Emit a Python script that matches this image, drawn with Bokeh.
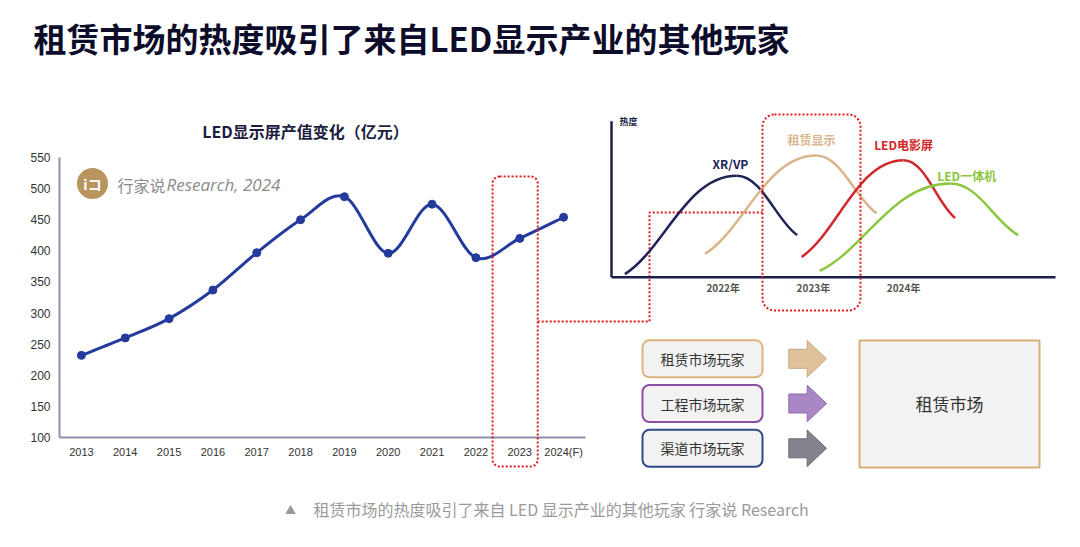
import numpy as np
from bokeh.plotting import figure
from bokeh.models import Range1d, FixedTicker
from bokeh.models.glyphs import Quad
from bokeh.core.properties import value
from bokeh.embed import file_html
from bokeh.resources import INLINE

# ---------------- data ----------------
years = ["2013", "2014", "2015", "2016", "2017", "2018", "2019", "2020",
         "2021", "2022", "2023", "2024(F)"]
output_value = [232, 260, 291, 337, 397, 450, 487, 396, 475, 389, 420, 454]
y_ticks = [100, 150, 200, 250, 300, 350, 400, 450, 500, 550]
highlight_year = "2023"

trend_names = ["XR/VP", "租赁显示", "LED电影屏", "LED一体机"]
trend_start_year = [2020.91, 2021.80, 2022.87, 2023.07]
trend_peak_year = [2022.15, 2023.03, 2024.00, 2024.52]
trend_end_year = [2022.82, 2023.70, 2024.57, 2025.27]
trend_start_heat = [2, 15, 13, 4]
trend_peak_heat = [65, 78, 75, 60]
trend_end_heat = [27, 41, 38, 27]
timeline_labels = ["2022年", "2023年", "2024年"]
timeline_years = [2022, 2023, 2024]
players = ["租赁市场玩家", "工程市场玩家", "渠道市场玩家"]
target_market = "租赁市场"

title_text = "租赁市场的热度吸引了来自LED显示产业的其他玩家"
chart_title = "LED显示屏产值变化（亿元）"
caption_text = "租赁市场的热度吸引了来自 LED 显示产业的其他玩家 行家说 Research"

# ---------------- styles ----------------
CJK = "Noto Sans CJK SC"
LINE_BLUE = "#243a9c"
RED = "#e0191e"
trend_colors = ["#1e2456", "#d9b68a", "#d2262b", "#8cc63f"]
trend_label_dx = [-0.07, -0.05, 0.0, 0.18]
trend_label_dy = [8, 10, 10, 5]
player_border = ["#dcb57e", "#8a4fa8", "#2e4a8a"]
arrow_fill = ["#dfc29c", "#a887c4", "#83838d"]
arrow_line = ["#c9a67a", "#8e6aae", "#6b6b75"]

W, H = 1080, 547
FL, FR, FT, FB = 59, 585, 157, 437          # frame of the left chart (screen px)
DX0, DXS, DY0, DYS = 722.7, 90.2, 276.7, 1.56  # diagram: px of 2022, px/yr, px of heat 0, px/heat


def yr(px):
    return 2022 + (px - DX0) / DXS


def ht(py):
    return (DY0 - py) / DYS


p = figure(width=W, height=H, output_backend="svg", toolbar_location=None,
           x_range=Range1d(-0.5, len(years) - 0.5), y_range=Range1d(100, 550),
           min_border_left=FL, min_border_right=W - FR,
           min_border_top=FT, min_border_bottom=H - FB,
           background_fill_color="white", border_fill_color="white",
           outline_line_color=None)
p.extra_x_ranges = {"px": Range1d(FL, FR), "yr": Range1d(yr(FL), yr(FR))}
p.extra_y_ranges = {"py": Range1d(FB, FT), "heat": Range1d(ht(FB), ht(FT))}
p.grid.visible = False

# axes of the left chart
p.yaxis.ticker = FixedTicker(ticks=y_ticks)
p.xaxis.ticker = FixedTicker(ticks=list(range(len(years))))
p.xaxis.major_label_overrides = {i: s for i, s in enumerate(years)}
for ax in (p.xaxis, p.yaxis):
    ax.axis_line_color = "#8e8eaa"
    ax.axis_line_width = 2
    ax.major_tick_line_color = None
    ax.minor_tick_line_color = None
    ax.major_label_text_font = "Liberation Sans"
    ax.major_label_text_color = "#333333"
p.yaxis.major_label_text_font_size = "12px"
p.yaxis.major_label_standoff = 3
p.xaxis.major_label_text_font_size = "11px"
p.xaxis.major_label_standoff = 2

OV = dict(level="overlay")
quad_kw = {}
if "border_radius" in Quad.properties():
    quad_kw = dict(border_radius=7)


def txt(x, y, s, size, color, font=CJK, style="normal", align="left",
        baseline="middle", xr="px", yrn="py"):
    p.text(x=[x], y=[y], text=[s], text_font=value(font),
           text_font_size=f"{size}px", text_font_style=style, text_color=color,
           text_align=align, text_baseline=baseline,
           x_range_name=xr, y_range_name=yrn, **OV)


# ---------------- titles ----------------
txt(33, 37, title_text, 33, "#0d0d2b", style="bold")
txt(305, 130, chart_title, 16, "#1c1d3f", style="bold", align="center")

# watermark
p.scatter(x=[92], y=[183], size=31, marker="circle", fill_color="#b8955e",
          line_color=None, x_range_name="px", y_range_name="py", **OV)
txt(92, 183, "iコ", 14, "white", font="Noto Sans CJK JP", style="bold", align="center")
txt(117, 184, "行家说", 16, "#8c8c8c")
txt(166, 184, "Research, 2024", 17, "#8c8c8c", font="Open Sans", style="italic")

# ---------------- smooth value line ----------------
xi = np.arange(len(years), dtype=float)
yv = np.array(output_value, dtype=float)
n = len(xi)
bx0, by0, bx1, by1, bcx0, bcy0, bcx1, bcy1 = [], [], [], [], [], [], [], []
for i in range(n - 1):
    i0 = max(i - 1, 0)
    i3 = min(i + 2, n - 1)
    bx0.append(xi[i]); by0.append(yv[i]); bx1.append(xi[i + 1]); by1.append(yv[i + 1])
    bcx0.append(xi[i] + (xi[i + 1] - xi[i0]) / 6)
    bcy0.append(yv[i] + (yv[i + 1] - yv[i0]) / 6)
    bcx1.append(xi[i + 1] - (xi[i3] - xi[i]) / 6)
    bcy1.append(yv[i + 1] - (yv[i3] - yv[i]) / 6)
p.bezier(x0=bx0, y0=by0, x1=bx1, y1=by1, cx0=bcx0, cy0=bcy0, cx1=bcx1, cy1=bcy1,
         line_color=LINE_BLUE, line_width=3, **OV)
p.scatter(x=xi, y=yv, size=8, marker="circle", fill_color=LINE_BLUE,
          line_color=LINE_BLUE, **OV)

# highlight of the selected year + connector
hi = years.index(highlight_year)
hl, hr = hi - 0.62, hi + 0.41
p.quad(left=[hl], right=[hr], top=[176], bottom=[466], y_range_name="py",
       fill_color=None, line_color=RED, line_width=2, line_dash="2 2", **quad_kw, **OV)
px_per_idx = (FR - FL) / len(years)
hr_px = FL + (hr + 0.5) * px_per_idx
p.line(x=[hr_px, 649, 649, 762], y=[321, 321, 212, 212], x_range_name="px",
       y_range_name="py", line_color=RED, line_width=2, line_dash="2 2", **OV)

# ---------------- right diagram ----------------
ax_x = yr(611)
ax_end = yr(1055)
p.segment(x0=[ax_x, ax_x], y0=[0, 0], x1=[ax_x, ax_end], y1=[100, 0],
          x_range_name="yr", y_range_name="heat", line_color="#1b1f4b",
          line_width=2.5, **OV)
p.scatter(x=[ax_x, ax_end], y=[100, 0], marker="triangle", size=9,
          angle=[0, -np.pi / 2], fill_color="#1b1f4b", line_color="#1b1f4b",
          x_range_name="yr", y_range_name="heat", **OV)
txt(628, 121, "热度", 9, "#1b1f4b", style="bold", align="center")
for lab, yy in zip(timeline_labels, timeline_years):
    txt(yy, ht(286.7), lab, 10, "#555555", style="bold", align="center",
        xr="yr", yrn="heat")

for k in range(len(trend_names)):
    s, pk, e = trend_start_year[k], trend_peak_year[k], trend_end_year[k]
    sh, ph, eh = trend_start_heat[k], trend_peak_heat[k], trend_end_heat[k]
    dx1, dy1 = pk - s, ph - sh
    dx2, dy2 = e - pk, ph - eh
    p.bezier(x0=[s, pk], y0=[sh, ph], x1=[pk, e], y1=[ph, eh],
             cx0=[s + 0.35 * dx1, pk + 0.42 * dx2], cy0=[sh + 0.25 * dy1, ph],
             cx1=[pk - 0.45 * dx1, e - 0.35 * dx2], cy1=[ph, eh + 0.25 * dy2],
             x_range_name="yr", y_range_name="heat",
             line_color=trend_colors[k], line_width=2.5, **OV)
    txt(pk + trend_label_dx[k], ph + trend_label_dy[k], trend_names[k], 12,
        trend_colors[k], style="bold", align="center", xr="yr", yrn="heat")

# highlight box on the diagram
box_kw = dict(quad_kw, border_radius=12) if quad_kw else {}
p.quad(left=[yr(762)], right=[yr(860)], top=[114], bottom=[310],
       x_range_name="yr", y_range_name="py", fill_color=None, line_color=RED,
       line_width=2, line_dash="2 2", **box_kw, **OV)

# ---------------- players -> market ----------------
box_cy = [358.3, 403.0, 447.8]
for k, name in enumerate(players):
    cy = box_cy[k]
    p.quad(left=[642], right=[762], top=[cy - 18.5], bottom=[cy + 18.5],
           x_range_name="px", y_range_name="py", fill_color="#f2f2f2",
           line_color=player_border[k], line_width=2, **quad_kw, **OV)
    txt(702, cy, name, 14, "#333333", align="center")
    ax0, ax1, ax2 = 788.3, 806.7, 826.0
    xs = [ax0, ax1, ax1, ax2, ax1, ax1, ax0]
    ys = [cy - 9.5, cy - 9.5, cy - 18.3, cy, cy + 18.3, cy + 9.5, cy + 9.5]
    p.patch(x=xs, y=ys, x_range_name="px", y_range_name="py",
            fill_color=arrow_fill[k], line_color=arrow_line[k], line_width=1, **OV)

p.quad(left=[859], right=[1039], top=[340], bottom=[467], x_range_name="px",
       y_range_name="py", fill_color="#f2f2f2", line_color="#d9ae78",
       line_width=2, **OV)
txt(949, 403, target_market, 17, "#333333", align="center")

# ---------------- caption ----------------
txt(290, 508, "▲", 11, "#999999", align="center")
txt(313, 508, caption_text, 16, "#9a9a9a")

open("out.html", "w").write(file_html(p, INLINE))
